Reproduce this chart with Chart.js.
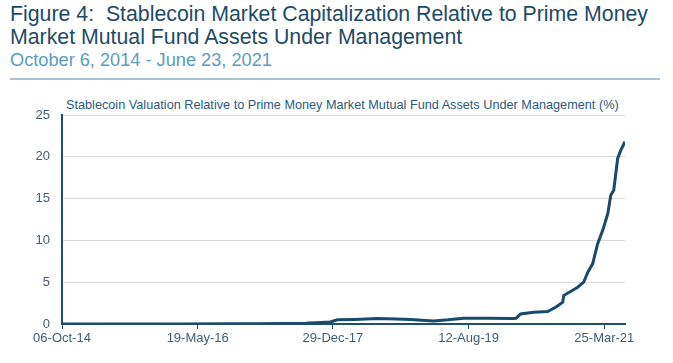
<!DOCTYPE html>
<html>
<head>
<meta charset="utf-8">
<script src="https://cdn.jsdelivr.net/npm/chart.js@4.4.1/dist/chart.umd.min.js"></script>
<style>
  body { margin: 0; background: #fff; width: 673px; height: 363px; overflow: hidden; font-family: "Liberation Sans", Arial, sans-serif; }
  .title { position: absolute; left: 10px; top: 3px; font-size: 21.3px; line-height: 23.3px; color: #1d4b66; white-space: nowrap; }
  .sub { position: absolute; left: 10px; top: 50px; font-size: 18.2px; color: #5b9cc2; white-space: nowrap; }
  .rule { position: absolute; left: 10px; top: 78px; width: 650px; height: 2px; background: #a9c3d4; }
  .inner { position: absolute; left: 66px; top: 98px; font-size: 12.7px; color: #2b5b7b; white-space: nowrap; }
  #wrap { position: absolute; left: 0; top: 90px; width: 673px; height: 273px; }
</style>
</head>
<body>
<div class="title">Figure 4:&nbsp; Stablecoin Market Capitalization Relative to Prime Money<br>Market Mutual Fund Assets Under Management</div>
<div class="sub">October 6, 2014 - June 23, 2021</div>
<div class="rule"></div>
<div class="inner">Stablecoin Valuation Relative to Prime Money Market Mutual Fund Assets Under Management (%)</div>
<div id="wrap"><canvas id="chart"></canvas></div>
<script>
// dates and values
const dates = ['2014-10-06', '2015-04-01', '2015-10-01', '2016-04-01', '2016-10-01', '2017-02-01',
  '2017-05-28', '2017-09-01', '2017-12-18', '2018-01-17', '2018-04-01', '2018-07-11', '2018-10-01',
  '2018-12-02', '2019-03-12', '2019-05-15', '2019-07-21', '2019-11-01', '2020-02-24', '2020-03-05',
  '2020-03-25', '2020-05-21', '2020-07-21', '2020-08-25', '2020-09-25', '2020-09-29', '2020-11-29',
  '2020-12-25', '2021-01-12', '2021-02-02', '2021-02-24', '2021-03-18', '2021-04-09', '2021-04-22',
  '2021-05-05', '2021-05-14', '2021-05-22', '2021-06-05', '2021-06-23'];
const values = [0.01, 0.01, 0.01, 0.01, 0.02, 0.03,
  0.05, 0.1, 0.25, 0.5, 0.55, 0.65, 0.6,
  0.55, 0.35, 0.5, 0.7, 0.7, 0.65, 0.68,
  1.2, 1.4, 1.5, 2.0, 2.6, 3.4, 4.4,
  5.0, 6.2, 7.2, 9.6, 11.2, 13.2, 15.4,
  16, 18, 19.8, 20.8, 21.8];
const xTickLabels = ['06-Oct-14', '19-May-16', '29-Dec-17', '12-Aug-19', '25-Mar-21'];
const yTicks = [0, 5, 10, 15, 20, 25];

const months = ['Jan','Feb','Mar','Apr','May','Jun','Jul','Aug','Sep','Oct','Nov','Dec'];
const start = Date.UTC(2014, 9, 6);
const DAY = 86400000;
function isoToDay(s) {
  const p = s.split('-');
  return Math.round((Date.UTC(+p[0], +p[1] - 1, +p[2]) - start) / DAY);
}
function labelToDay(s) {
  const p = s.split('-');
  return Math.round((Date.UTC(2000 + +p[2], months.indexOf(p[1]), +p[0]) - start) / DAY);
}
const xTickDays = xTickLabels.map(labelToDay);
const lastDay = isoToDay(dates[dates.length - 1]);

const points = dates.map((d, i) => ({ x: isoToDay(d), y: values[i] }));

const axisColor = '#1f4e6e';
const tickFont = { family: '"Liberation Sans", Arial, sans-serif', size: 13 };

new Chart(document.getElementById('chart'), {
  type: 'line',
  data: {
    datasets: [{
      data: points,
      borderColor: '#174a6c',
      borderWidth: 3,
      pointRadius: 0,
      tension: 0,
      fill: false
    }]
  },
  options: {
    responsive: true,
    maintainAspectRatio: false,
    animation: false,
    layout: { padding: { top: 25, right: 48, left: 0, bottom: 0 } },
    plugins: { legend: { display: false }, tooltip: { enabled: false } },
    scales: {
      x: {
        type: 'linear',
        min: 0,
        max: lastDay,
        afterBuildTicks: s => { s.ticks = xTickDays.map(v => ({ value: v })); },
        afterFit: s => { s.height = 39; },
        ticks: {
          color: '#3c5f79',
          font: tickFont,
          maxRotation: 0,
          autoSkip: false,
          padding: 2,
          callback: (v, i) => xTickLabels[i]
        },
        grid: { display: true, drawOnChartArea: false, drawTicks: true, tickLength: 5, color: axisColor, lineWidth: 1 },
        border: { display: true, color: axisColor, width: 2 }
      },
      y: {
        min: 0,
        max: 25,
        afterBuildTicks: s => { s.ticks = yTicks.map(v => ({ value: v })); },
        afterFit: s => { s.width = 62; },
        ticks: { color: '#3c5f79', font: tickFont, padding: 12 },
        grid: {
          color: ctx => ctx.tick && ctx.tick.value === 0 ? 'rgba(0,0,0,0)' : '#d9d9d9',
          lineWidth: 1,
          drawTicks: false
        },
        border: { display: true, color: axisColor, width: 2 }
      }
    }
  }
});
</script>
</body>
</html>
